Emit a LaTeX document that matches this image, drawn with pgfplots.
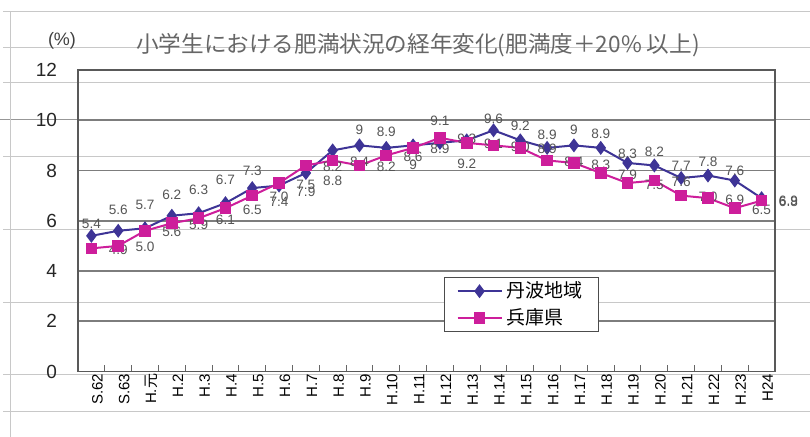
\documentclass[border=0pt]{standalone}
\usepackage{fontspec}
\setmainfont{Liberation Sans}
\newfontfamily\cjk{Noto Sans CJK JP}
\usepackage{pgfplots}
\pgfplotsset{compat=1.18}
\usepackage{pgfplotstable}
\definecolor{tanba}{RGB}{62,52,150}
\definecolor{hyogo}{RGB}{205,30,155}
\definecolor{lbl}{RGB}{85,85,85}
\definecolor{ghost}{RGB}{200,200,200}
\definecolor{gridc}{RGB}{125,125,125}

\pgfplotstableread{
x y dy dx
0 5.4 6 0
1 5.6 10.5 0
2 5.7 11.5 0
3 6.2 10.5 0
4 6.3 11.5 0
5 6.7 11.5 0
6 7.3 8.5 0
7 7.4 -8 0
8 7.9 -9.5 0
9 8.8 -15 0
10 9.0 8 0
11 8.9 8 0
12 9.0 -9.5 0
13 9.1 11 0
14 9.2 -11.5 0
15 9.6 5.5 0
16 9.2 7.5 0
17 8.9 6.5 0
18 9.0 8 0
19 8.9 7 0
20 8.3 4.5 0
21 8.2 7 0
22 7.7 6 0
23 7.8 7 0
24 7.6 5 0
25 6.9 -1.5 13.4
}\tanbadata

\pgfplotstableread{
x y
0 4.9
1 5.0
2 5.6
3 5.9
4 6.1
5 6.5
6 7.0
7 7.5
8 8.2
9 8.4
10 8.2
11 8.6
12 8.9
13 9.3
14 9.1
15 9.0
16 8.9
17 8.4
18 8.3
19 7.9
20 7.5
21 7.6
22 7.0
23 6.9
24 6.5
25 6.8
}\hyogodata

\begin{document}
\begin{tikzpicture}
\path[use as bounding box] (0pt,0pt) rectangle (405pt,-218.5pt);
\begin{scope}[x=0.5pt,y=-0.5pt]
\foreach \yy in {12,48,83,157,230,303,375,412}{
  \draw[ghost, line width=0.5pt] (3,\yy) -- (810,\yy);
}
\draw[gridc!80, line width=0.5pt] (0,120) -- (810,120);
\draw[ghost, line width=0.5pt] (10,12) -- (10,437);
\node[font=\fontsize{9}{10}\selectfont, text=black!75] at (62,41) {(\%)};
\node[font=\cjk\fontsize{11.3}{13}\selectfont, text=black!60] at (418,45) {小学生における肥満状況の経年変化(肥満度＋20\% 以上)};
\end{scope}
\begin{axis}[
  at={(39pt,-35pt)}, anchor=north west,
  scale only axis, width=348.5pt, height=150.75pt,
  xmin=-0.5, xmax=25.5, ymin=0, ymax=12,
  clip=false,
  /pgf/number format/assume math mode=true,
  axis line style={black!65, line width=0.6pt},
  xtick={0,...,25},
  xticklabels={S.62,S.63,{H.{\cjk 元}},H.2,H.3,H.4,H.5,H.6,H.7,H.8,H.9,H.10,H.11,H.12,H.13,H.14,H.15,H.16,H.17,H.18,H.19,H.20,H.21,H.22,H.23,H24},
  x tick label style={rotate=90, anchor=east, font=\fontsize{7.5}{8}\selectfont, yshift=-3pt, inner sep=1pt},
  minor xtick={-0.5,0.5,...,25.5},
  major tick length=0pt,
  minor tick length=3pt,
  tick align=inside,
  tick pos=left,
  minor tick style={black!60, line width=0.5pt},
  ytick={0,2,...,12},
  yticklabel style={font=\fontsize{9.5}{11}\selectfont, xshift=-7pt, text=black!85},
  ymajorgrids,
  major grid style={gridc, line width=0.9pt},
  legend style={at={(0.525,0.313)}, anchor=north west, draw=black!70, line width=0.6pt,
    font=\cjk\fontsize{9.5}{11}\selectfont, inner xsep=6pt, inner ysep=0pt, row sep=0pt,
    /tikz/every even column/.append style={column sep=2pt}},
  legend cell align=left,
  legend image code/.code={\draw[mark repeat=2,mark phase=2,#1] plot coordinates {(0pt,0pt) (11pt,0pt) (22pt,0pt)};},
]
\addplot[tanba, line width=1pt, mark=diamond*, mark size=2.7pt, mark options={solid, fill=tanba},
  visualization depends on={\thisrow{dy} \as \labdy},
  visualization depends on={\thisrow{dx} \as \labdx},
  nodes near coords,
  every node near coord/.append style={anchor=center, xshift=\labdx pt, yshift=\labdy pt, font=\fontsize{6.8}{7}\selectfont, text=lbl, inner sep=0pt},
] table[x=x, y=y] {\tanbadata};
\addlegendentry{丹波地域}
\addplot[hyogo, line width=1pt, mark=square*, mark size=2.4pt, mark options={solid, fill=hyogo},
  nodes near coords={\pgfmathprintnumber[fixed, fixed zerofill, precision=1]{\pgfplotspointmeta}},
  every node near coord/.append style={anchor=center, xshift=13.4pt, yshift=-0.7pt, font=\fontsize{6.8}{7}\selectfont, text=lbl, inner sep=0pt},
] table[x=x, y=y] {\hyogodata};
\addlegendentry{兵庫県}
\end{axis}
\end{tikzpicture}
\end{document}
